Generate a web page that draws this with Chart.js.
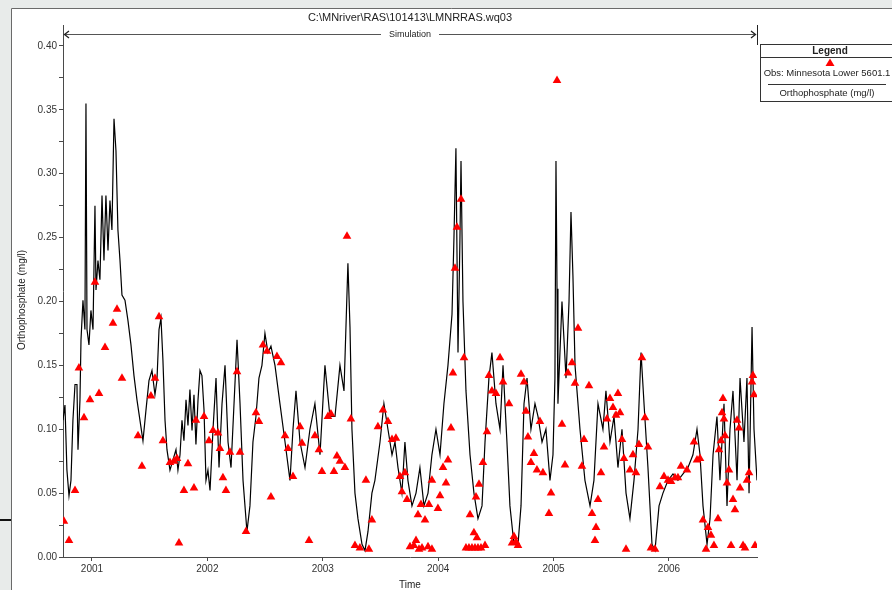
<!DOCTYPE html>
<html>
<head>
<meta charset="utf-8">
<script src="https://cdn.jsdelivr.net/npm/chart.js@4.4.1/dist/chart.umd.min.js"></script>
<style>
  html, body { margin:0; padding:0; background:#e8ebea; }
  #wrap { width:892px; height:590px; }
</style>
</head>
<body>
<div id="wrap"><canvas id="chart" width="892" height="590"></canvas></div>
<script>
// simulated orthophosphate (decimal year, mg/l)
const simTime = [2000.749,2000.766,2000.783,2000.801,2000.818,2000.835,2000.853,2000.87,2000.879,2000.896,2000.905,2000.922,2000.939,2000.948,2000.957,2000.974,2000.991,2001.009,2001.026,2001.035,2001.052,2001.069,2001.087,2001.104,2001.121,2001.139,2001.156,2001.173,2001.191,2001.208,2001.225,2001.243,2001.26,2001.286,2001.312,2001.338,2001.364,2001.39,2001.416,2001.442,2001.468,2001.494,2001.52,2001.546,2001.563,2001.581,2001.598,2001.615,2001.633,2001.65,2001.676,2001.702,2001.728,2001.745,2001.763,2001.78,2001.797,2001.815,2001.832,2001.849,2001.867,2001.884,2001.901,2001.919,2001.936,2001.953,2001.971,2001.988,2002.005,2002.023,2002.049,2002.075,2002.101,2002.127,2002.153,2002.179,2002.205,2002.231,2002.257,2002.283,2002.309,2002.343,2002.369,2002.395,2002.421,2002.447,2002.473,2002.499,2002.525,2002.551,2002.586,2002.629,2002.673,2002.716,2002.742,2002.768,2002.803,2002.846,2002.889,2002.932,2002.976,2003.019,2003.062,2003.106,2003.149,2003.184,2003.218,2003.236,2003.253,2003.279,2003.305,2003.34,2003.366,2003.392,2003.426,2003.452,2003.496,2003.53,2003.565,2003.6,2003.626,2003.652,2003.686,2003.712,2003.738,2003.773,2003.808,2003.842,2003.877,2003.912,2003.946,2003.981,2004.016,2004.05,2004.085,2004.12,2004.137,2004.154,2004.172,2004.189,2004.198,2004.215,2004.241,2004.276,2004.31,2004.345,2004.38,2004.406,2004.44,2004.466,2004.501,2004.536,2004.562,2004.596,2004.622,2004.657,2004.692,2004.718,2004.744,2004.77,2004.804,2004.839,2004.865,2004.9,2004.934,2004.969,2004.995,2005.012,2005.021,2005.03,2005.038,2005.073,2005.108,2005.134,2005.151,2005.168,2005.186,2005.229,2005.272,2005.316,2005.35,2005.385,2005.428,2005.454,2005.489,2005.524,2005.558,2005.593,2005.628,2005.662,2005.697,2005.732,2005.758,2005.784,2005.818,2005.853,2005.879,2005.914,2005.948,2005.992,2006.035,2006.078,2006.122,2006.165,2006.208,2006.243,2006.269,2006.295,2006.33,2006.356,2006.382,2006.416,2006.442,2006.477,2006.503,2006.529,2006.555,2006.59,2006.616,2006.65,2006.676,2006.694,2006.72,2006.737,2006.763];
const simValue = [0.107,0.119,0.068,0.048,0.06,0.107,0.135,0.135,0.084,0.123,0.17,0.201,0.178,0.355,0.178,0.166,0.193,0.178,0.275,0.209,0.232,0.217,0.283,0.232,0.283,0.24,0.279,0.256,0.343,0.318,0.256,0.232,0.205,0.201,0.185,0.166,0.142,0.123,0.107,0.091,0.115,0.138,0.146,0.127,0.138,0.178,0.187,0.154,0.107,0.084,0.068,0.076,0.084,0.068,0.08,0.107,0.091,0.123,0.103,0.131,0.099,0.127,0.088,0.123,0.146,0.142,0.115,0.06,0.068,0.052,0.10,0.14,0.07,0.12,0.15,0.09,0.07,0.12,0.17,0.12,0.06,0.02,0.04,0.09,0.11,0.14,0.15,0.175,0.16,0.165,0.15,0.12,0.09,0.06,0.10,0.13,0.09,0.07,0.10,0.12,0.08,0.15,0.11,0.11,0.15,0.13,0.23,0.18,0.10,0.05,0.03,0.01,0.005,0.02,0.05,0.06,0.09,0.12,0.10,0.08,0.09,0.07,0.05,0.09,0.06,0.04,0.05,0.07,0.04,0.05,0.08,0.10,0.08,0.12,0.15,0.19,0.25,0.32,0.16,0.25,0.31,0.20,0.13,0.08,0.05,0.03,0.04,0.09,0.14,0.16,0.12,0.10,0.15,0.09,0.04,0.01,0.01,0.04,0.12,0.14,0.10,0.12,0.11,0.09,0.10,0.06,0.08,0.14,0.31,0.21,0.12,0.20,0.14,0.20,0.27,0.22,0.15,0.10,0.06,0.04,0.06,0.12,0.10,0.13,0.09,0.11,0.07,0.10,0.05,0.03,0.06,0.10,0.16,0.12,0.07,0.01,0.005,0.04,0.05,0.06,0.065,0.06,0.065,0.07,0.08,0.10,0.08,0.04,0.01,0.03,0.08,0.11,0.06,0.12,0.04,0.10,0.13,0.06,0.14,0.09,0.14,0.05,0.18,0.10,0.06];

// observed samples: Minnesota Lower 5601.1
const obsTime = [2000.757,2000.801,2000.853,2000.887,2000.931,2000.983,2001.026,2001.061,2001.113,2001.182,2001.217,2001.26,2001.399,2001.433,2001.511,2001.546,2001.581,2001.615,2001.676,2001.711,2001.737,2001.754,2001.797,2001.832,2001.884,2001.901,2001.971,2002.014,2002.049,2002.092,2002.109,2002.135,2002.161,2002.196,2002.257,2002.283,2002.335,2002.421,2002.447,2002.482,2002.517,2002.551,2002.603,2002.638,2002.673,2002.699,2002.742,2002.803,2002.82,2002.881,2002.932,2002.967,2002.993,2003.045,2003.071,2003.097,2003.123,2003.149,2003.192,2003.21,2003.244,2003.279,2003.322,2003.374,2003.4,2003.426,2003.478,2003.522,2003.565,2003.6,2003.634,2003.669,2003.686,2003.712,2003.73,2003.756,2003.79,2003.808,2003.834,2003.86,2003.886,2003.912,2003.946,2003.825,2003.851,2003.92,2003.946,2003.998,2004.016,2004.042,2004.068,2004.085,2004.111,2004.128,2004.146,2004.163,2004.198,2004.224,2004.241,2004.267,2004.293,2004.319,2004.345,2004.371,2004.406,2004.31,2004.336,2004.276,2004.328,2004.354,2004.388,2004.423,2004.44,2004.466,2004.501,2004.536,2004.562,2004.614,2004.64,2004.657,2004.674,2004.692,2004.718,2004.744,2004.761,2004.778,2004.804,2004.83,2004.856,2004.882,2004.908,2004.96,2004.978,2005.03,2005.073,2005.099,2005.125,2005.16,2005.186,2005.212,2005.246,2005.264,2005.307,2005.333,2005.359,2005.368,2005.385,2005.411,2005.437,2005.463,2005.489,2005.515,2005.541,2005.558,2005.576,2005.593,2005.61,2005.628,2005.662,2005.688,2005.714,2005.74,2005.766,2005.792,2005.818,2005.844,2005.879,2005.922,2005.957,2005.992,2006.018,2006.052,2006.078,2006.104,2006.156,2006.217,2006.243,2006.269,2006.295,2006.321,2006.338,2006.364,2006.39,2006.425,2006.434,2006.451,2006.46,2006.468,2006.477,2006.486,2006.503,2006.52,2006.538,2006.555,2006.572,2006.59,2006.607,2006.616,2006.642,2006.659,2006.676,2006.694,2006.72,2006.728,2006.737,2006.746];
const obsValue = [0.028,0.013,0.052,0.148,0.109,0.123,0.215,0.128,0.164,0.183,0.194,0.14,0.095,0.071,0.126,0.14,0.188,0.091,0.074,0.075,0.077,0.011,0.052,0.073,0.054,0.107,0.11,0.091,0.099,0.097,0.085,0.062,0.052,0.082,0.145,0.082,0.02,0.113,0.106,0.166,0.161,0.047,0.157,0.152,0.095,0.085,0.063,0.102,0.089,0.013,0.095,0.084,0.067,0.11,0.112,0.067,0.079,0.075,0.07,0.251,0.108,0.009,0.007,0.06,0.006,0.029,0.102,0.115,0.106,0.092,0.093,0.063,0.051,0.066,0.045,0.008,0.009,0.013,0.006,0.007,0.029,0.008,0.006,0.033,0.041,0.041,0.06,0.038,0.048,0.07,0.058,0.076,0.101,0.144,0.226,0.258,0.28,0.156,0.007,0.007,0.007,0.007,0.007,0.007,0.009,0.019,0.015,0.033,0.047,0.057,0.074,0.098,0.142,0.13,0.128,0.156,0.137,0.12,0.011,0.016,0.012,0.009,0.143,0.137,0.114,0.094,0.074,0.081,0.068,0.106,0.066,0.034,0.05,0.373,0.104,0.072,0.144,0.152,0.136,0.179,0.071,0.092,0.134,0.034,0.013,0.023,0.045,0.066,0.086,0.108,0.124,0.117,0.111,0.128,0.113,0.092,0.077,0.006,0.068,0.08,0.066,0.088,0.156,0.109,0.086,0.007,0.006,0.055,0.063,0.06,0.059,0.062,0.062,0.071,0.068,0.09,0.076,0.077,0.029,0.006,0.023,0.017,0.009,0.03,0.084,0.091,0.113,0.124,0.108,0.095,0.058,0.068,0.009,0.045,0.037,0.107,0.101,0.054,0.009,0.007,0.06,0.066,0.137,0.142,0.127,0.009];

const yearTicks = [2001, 2002, 2003, 2004, 2005, 2006];
const concTicks = [0, 0.025, 0.05, 0.075, 0.10, 0.125, 0.15, 0.175, 0.20, 0.225, 0.25, 0.275, 0.30, 0.325, 0.35, 0.375, 0.40];
const timeRange = [2000.749, 2006.763];
const concRange = [0, 0.4164];

const chartTitle = 'C:\\MNriver\\RAS\\101413\\LMNRRAS.wq03';
const FONT = '"Liberation Sans", Arial, sans-serif';
const AXIS = '#4a4a4a';

// window-ish frame + extra text drawn around the plot
const framePlugin = {
  id: 'frame',
  beforeDraw(chart){
    const c = chart.ctx;
    c.save();
    c.fillStyle = '#e8ebea';
    c.fillRect(0, 0, chart.width, chart.height);
    c.fillStyle = '#ffffff';
    c.fillRect(11, 8, chart.width - 11, chart.height - 8);
    c.strokeStyle = '#6a6a6a';
    c.lineWidth = 1;
    c.beginPath();
    c.moveTo(11.5, chart.height); c.lineTo(11.5, 8.5); c.lineTo(chart.width, 8.5);
    c.stroke();
    c.strokeStyle = '#111';
    c.lineWidth = 2;
    c.beginPath(); c.moveTo(0, 520); c.lineTo(11, 520); c.stroke();
    c.restore();
  },
  afterDraw(chart){
    const c = chart.ctx;
    const a = chart.chartArea;
    const mid = (a.left + a.right) / 2;
    c.save();
    c.fillStyle = '#222';
    c.textAlign = 'center';
    c.textBaseline = 'middle';
    c.font = '11px ' + FONT;
    c.fillText(chartTitle, mid, 18);

    // simulation span arrow
    const ay = 34.5;
    c.font = '9px ' + FONT;
    c.fillText('Simulation', mid, ay);
    const half = c.measureText('Simulation').width / 2 + 8;
    c.strokeStyle = '#555';
    c.lineWidth = 1;
    c.beginPath();
    c.moveTo(a.left + 1, ay); c.lineTo(mid - half, ay);
    c.moveTo(mid + half, ay); c.lineTo(a.right - 1, ay);
    c.stroke();
    c.strokeStyle = '#222';
    c.lineWidth = 1.3;
    c.beginPath();
    c.moveTo(a.left + 6, ay - 3.5); c.lineTo(a.left + 1.5, ay); c.lineTo(a.left + 6, ay + 3.5);
    c.moveTo(a.right - 6, ay - 3.5); c.lineTo(a.right - 1.5, ay); c.lineTo(a.right - 6, ay + 3.5);
    c.stroke();
    c.lineWidth = 1;
    c.beginPath();
    c.moveTo(a.right + 0.5, a.top); c.lineTo(a.right + 0.5, a.top + 20);
    c.stroke();

    // axis titles
    c.fillStyle = '#222';
    c.font = '10px ' + FONT;
    c.fillText('Time', mid, 585);
    c.save();
    c.translate(22, 300);
    c.rotate(-Math.PI / 2);
    c.fillText('Orthophosphate (mg/l)', 0, 0);
    c.restore();

    // legend box
    const lx = 760, ly = 44, lw = 140, lh = 57;
    c.strokeStyle = '#333';
    c.lineWidth = 1;
    c.strokeRect(lx + 0.5, ly + 0.5, lw, lh);
    c.beginPath();
    c.moveTo(lx, 57.5); c.lineTo(lx + lw, 57.5);
    c.moveTo(768, 84.5); c.lineTo(886, 84.5);
    c.stroke();
    c.font = 'bold 10px ' + FONT;
    c.fillText('Legend', 830, 51);
    c.fillStyle = '#ff0000';
    c.beginPath();
    c.moveTo(830, 58.5); c.lineTo(834.5, 66); c.lineTo(825.5, 66); c.closePath();
    c.fill();
    c.fillStyle = '#222';
    c.font = '9.5px ' + FONT;
    c.fillText('Obs: Minnesota Lower 5601.1', 827, 73.5);
    c.fillText('Orthophosphate (mg/l)', 827, 93);
    c.restore();
  }
};

new Chart(document.getElementById('chart'), {
  type: 'scatter',
  data: {
    datasets: [
      {
        label: 'Obs: Minnesota Lower 5601.1',
        data: obsTime.map((t, i) => ({ x: t, y: obsValue[i] })),
        pointStyle: 'triangle',
        pointRadius: 5,
        backgroundColor: '#ff0000',
        borderColor: '#ff0000',
        borderWidth: 0,
        order: 0
      },
      {
        label: 'Simulation',
        data: simTime.map((t, i) => ({ x: t, y: simValue[i] })),
        showLine: true,
        pointRadius: 0,
        borderColor: '#000000',
        borderWidth: 1.2,
        tension: 0,
        order: 1
      }
    ]
  },
  options: {
    responsive: false,
    animation: false,
    devicePixelRatio: 1,
    layout: { padding: { top: 25, right: 135, left: 0, bottom: 0 } },
    plugins: { legend: { display: false }, tooltip: { enabled: false }, title: { display: false } },
    scales: {
      x: {
        type: 'linear',
        min: timeRange[0], max: timeRange[1],
        afterBuildTicks: s => { s.ticks = yearTicks.map(v => ({ value: v })); },
        afterFit: s => { s.height = 33; },
        grid: { drawOnChartArea: false, drawTicks: true, tickLength: 4, color: AXIS },
        border: { display: true, color: AXIS, width: 1 },
        ticks: { callback: v => String(v), font: { size: 10, family: FONT }, color: '#333', padding: 2, maxRotation: 0 }
      },
      y: {
        min: concRange[0], max: concRange[1],
        afterBuildTicks: s => { s.ticks = concTicks.map(v => ({ value: v })); },
        afterFit: s => { s.width = 63; },
        grid: { drawOnChartArea: false, drawTicks: true, tickLength: 4, color: AXIS },
        border: { display: true, color: AXIS, width: 1 },
        ticks: {
          callback: v => (Math.round(v * 1000) % 50 === 0 ? v.toFixed(2) : ''),
          font: { size: 10, family: FONT }, color: '#333', padding: 2, autoSkip: false
        }
      }
    }
  },
  plugins: [framePlugin]
});
</script>
</body>
</html>
